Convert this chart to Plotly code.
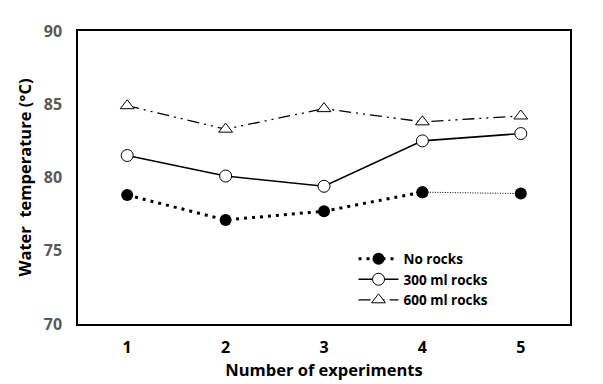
import plotly.graph_objects as go

experiments = [1, 2, 3, 4, 5]
no_rocks = [78.8, 77.1, 77.7, 79.0, 78.9]
rocks_300 = [81.5, 80.1, 79.4, 82.5, 83.0]
rocks_600 = [84.9, 83.3, 84.7, 83.8, 84.2]

fonte = "Open Sans"

fig = go.Figure()

# sem pedras: trecho 1-4 pontilhado grosso, 4-5 pontilhado fino
fig.add_trace(go.Scatter(x=experiments[:4], y=no_rocks[:4], mode='lines+markers',
                         name='No rocks',
                         line=dict(color='black', width=3, dash='3px,5px'),
                         marker=dict(symbol='circle', size=12, color='black')))
fig.add_trace(go.Scatter(x=experiments[3:], y=no_rocks[3:], mode='lines+markers',
                         showlegend=False,
                         line=dict(color='black', width=1, dash='1px,1.5px'),
                         marker=dict(symbol='circle', size=12, color='black')))
fig.add_trace(go.Scatter(x=experiments, y=rocks_300, mode='lines+markers',
                         name='300 ml rocks',
                         line=dict(color='black', width=1.6),
                         marker=dict(symbol='circle', size=12, color='white',
                                     line=dict(color='black', width=1))))
fig.add_trace(go.Scatter(x=experiments, y=rocks_600, mode='lines+markers',
                         name='600 ml rocks',
                         line=dict(color='black', width=1.3, dash='12px,5px,2px,5px,2px,5px'),
                         marker=dict(symbol='triangle-up', size=12, color='white',
                                     line=dict(color='black', width=1))))

# a página tem 8px de margem no body, por isso as margens estão descontadas
fig.update_layout(
    width=603, height=384,
    margin=dict(l=70, r=41, t=15, b=68),
    plot_bgcolor='white', paper_bgcolor='white',
    font=dict(family=fonte, color='black'),
    legend=dict(x=0.56, y=0.275, xanchor='left', yanchor='top',
                bgcolor='rgba(0,0,0,0)', tracegroupgap=0,
                font=dict(size=13.5, family=fonte, weight='bold'),
                itemwidth=40),
)
fig.update_xaxes(range=[0.5, 5.5], tickvals=experiments, ticks='',
                 showline=True, linecolor='black', linewidth=1.5, mirror=True,
                 showgrid=False, zeroline=False, ticklabelstandoff=8,
                 tickfont=dict(size=16, weight='bold', color='black'),
                 title=dict(text='Number of experiments', standoff=1,
                            font=dict(size=16.5, weight='bold')))
fig.update_yaxes(range=[70, 90], dtick=5, ticks='',
                 showline=True, linecolor='black', linewidth=1.5, mirror=True,
                 showgrid=False, zeroline=False, ticklabelstandoff=11,
                 tickfont=dict(size=16, weight='bold', color='#595959'),
                 title=dict(text='Water  temperature (°C)', standoff=8,
                            font=dict(size=16.5, weight='bold')))

fig.write_html("out.html")
